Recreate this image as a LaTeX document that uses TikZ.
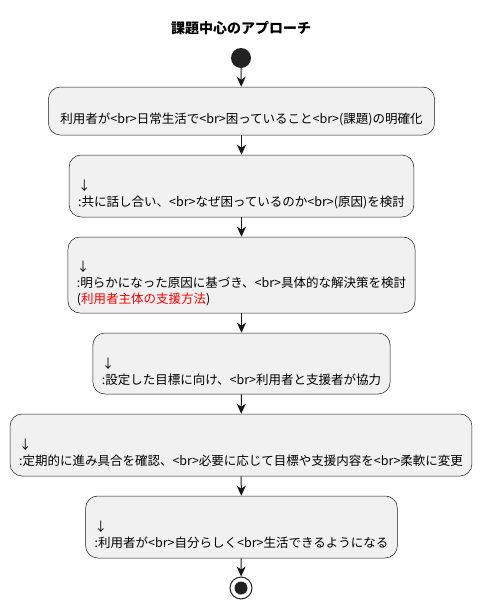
\documentclass[tikz,border=0pt]{standalone}
\usepackage{fontspec}
\usepackage{xcolor}
\setmainfont{Noto Sans CJK JP}
\usetikzlibrary{arrows.meta}

\definecolor{boxfill}{HTML}{F1F1F1}
\definecolor{boxline}{HTML}{181818}
\definecolor{dotfill}{HTML}{222222}

\begin{document}
\begin{tikzpicture}[
  x=1pt, y=-1pt,
  every node/.style={font=\fontsize{12.5}{16}\selectfont},
  act/.style={draw=boxline,fill=boxfill,line width=0.5pt,rounded corners=12pt,
    align=left,inner xsep=9pt,inner ysep=7pt},
  startdot/.style={circle,fill=dotfill,minimum size=20pt,inner sep=0pt},
  enddot/.style={circle,draw=dotfill,line width=1pt,fill=white,minimum size=22pt,inner sep=0pt,
    path picture={\fill[dotfill] (path picture bounding box.center) circle (6.5pt);}},
  edge/.style={draw=boxline,line width=1pt,-{Stealth[length=10pt,width=9pt,inset=3pt]}}
  ]

  \useasboundingbox (0,0) rectangle (482,610);

  \node[font=\fontsize{14}{16}\selectfont\bfseries] (title) at (241,28) {課題中心のアプローチ};

  \node[startdot] (start) at (241,58) {};

  \node[act,minimum height=48pt,inner xsep=12pt] (b1) at (241.5,111)
    {\vphantom{↓}\\利用者が<br>日常生活で<br>困っていること<br>(課題)の明確化};
  \node[act,minimum height=62pt] (b2) at (241.5,186)
    {\vphantom{↓}\\↓\\:共に話し合い、<br>なぜ困っているのか<br>(原因)を検討};
  \node[act,minimum height=76pt] (b3) at (241.5,275)
    {\vphantom{↓}\\↓\\:明らかになった原因に基づき、<br>具体的な解決策を検討\\(\textcolor{red}{利用者主体の支援方法})};
  \node[act,minimum height=61pt] (b4) at (241.5,363.5)
    {\vphantom{↓}\\↓\\:設定した目標に向け、<br>利用者と支援者が協力};
  \node[act,minimum height=62pt] (b5) at (241,445)
    {\vphantom{↓}\\↓\\:定期的に進み具合を確認、<br>必要に応じて目標や支援内容を<br>柔軟に変更};
  \node[act,minimum height=62pt] (b6) at (241.5,527)
    {\vphantom{↓}\\↓\\:利用者が<br>自分らしく<br>生活できるようになる};

  \node[enddot] (stop) at (241,588) {};

  \draw[edge] (start) -- (b1);
  \draw[edge] (b1) -- (b2);
  \draw[edge] (b2) -- (b3);
  \draw[edge] (b3) -- (b4);
  \draw[edge] (b4) -- (b5);
  \draw[edge] (b5) -- (b6);
  \draw[edge] (b6) -- (stop);
\end{tikzpicture}
\end{document}
